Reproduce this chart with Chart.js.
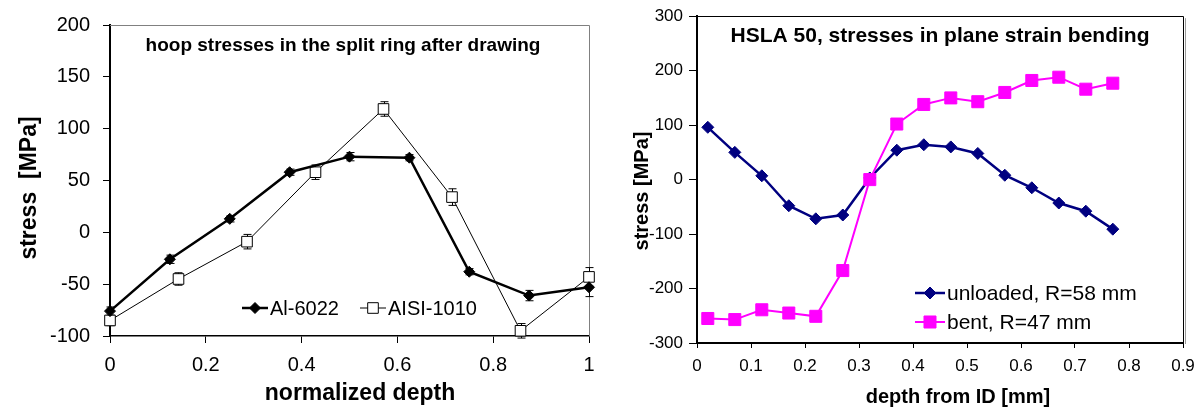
<!DOCTYPE html>
<html><head><meta charset="utf-8">
<script src="https://cdn.jsdelivr.net/npm/chart.js@4.4.1/dist/chart.umd.min.js"></script>
<style>
html,body{margin:0;padding:0;background:#fff;}
#wrap{position:relative;width:1204px;height:412px;overflow:hidden;}
#c1{position:absolute;left:0;top:0;}
#c2{position:absolute;left:600px;top:0;}
</style></head><body>
<div id="wrap"><canvas id="c1" width="600" height="412"></canvas><canvas id="c2" width="604" height="412"></canvas></div>
<script>
// ---- Left chart data ----
const depthAl   = [0, 0.125, 0.25, 0.375, 0.5, 0.625, 0.75, 0.875, 1];
const stressAl  = [-76, -26, 13, 58, 73, 72, -38, -61, -53];
const errAl     = [4, 4, 3, 3, 4, 3, 3, 5, 9];
const depthAisi  = [0, 0.143, 0.286, 0.429, 0.571, 0.714, 0.857, 1];
const stressAisi = [-85, -45, -9, 58, 119, 34, -95, -43];
const errAisi    = [5, 6, 7, 7, 7, 8, 7, 9];
const leftSeriesNames = ['Al-6022', 'AISI-1010'];

// ---- Right chart data ----
const depthID      = [0.02, 0.07, 0.12, 0.17, 0.22, 0.27, 0.32, 0.37, 0.42, 0.47, 0.52, 0.57, 0.62, 0.67, 0.72, 0.77];
const stressUnload = [96, 50, 7, -48, -72, -65, 3, 54, 64, 60, 48, 8, -15, -43, -58, -91];
const stressBent   = [-255, -257, -239, -245, -251, -167, 0, 102, 138, 150, 143, 160, 182, 188, 166, 177];
const rightSeriesNames = ['unloaded, R=58 mm', 'bent, R=47 mm'];

const FONT = "'Liberation Sans', Arial, sans-serif";
Chart.defaults.font.family = FONT;
Chart.defaults.color = '#000';

function pts(xs, ys){ return xs.map((x,i)=>({x:x, y:ys[i]})); }
function fmtNum(v){ return String(Math.round(v*10)/10); }

function drawMarker(ctx, style, x, y, r, fill, stroke){
  ctx.save();
  ctx.beginPath();
  if(style==='rectRot'){
    ctx.moveTo(x-r,y); ctx.lineTo(x,y-r); ctx.lineTo(x+r,y); ctx.lineTo(x,y+r); ctx.closePath();
  } else {
    const h = r*Math.SQRT1_2; ctx.rect(x-h,y-h,2*h,2*h);
  }
  ctx.fillStyle=fill; ctx.fill();
  ctx.lineWidth=1; ctx.strokeStyle=stroke; ctx.stroke();
  ctx.restore();
}

const decor = {
  id:'decor',
  beforeDatasetsDraw(chart, args, o){
    const ctx=chart.ctx, a=chart.chartArea, xs=chart.scales.x, ys=chart.scales.y;
    ctx.save();
    ctx.strokeStyle=o.frameColor; ctx.lineWidth=1;
    ctx.beginPath();
    ctx.moveTo(a.left, Math.round(a.top)+0.5); ctx.lineTo(Math.round(a.right)+0.5, Math.round(a.top)+0.5);
    ctx.lineTo(Math.round(a.right)+0.5, a.bottom);
    ctx.stroke();
    if(o.shadow){
      ctx.strokeStyle='#9a9a9a';
      ctx.beginPath(); ctx.moveTo(Math.round(a.right)+2.5, a.top+2); ctx.lineTo(Math.round(a.right)+2.5, a.bottom+1); ctx.stroke();
    }
    ctx.restore();
    chart.data.datasets.forEach(ds=>{
      if(!ds.errors) return;
      ctx.save(); ctx.strokeStyle='#000'; ctx.lineWidth=1;
      ds.data.forEach((p,i)=>{
        const e=ds.errors[i];
        const px=Math.round(xs.getPixelForValue(p.x))+0.5;
        const y1=ys.getPixelForValue(p.y+e), y2=ys.getPixelForValue(p.y-e);
        ctx.beginPath();
        ctx.moveTo(px,y1); ctx.lineTo(px,y2);
        ctx.moveTo(px-4,y1); ctx.lineTo(px+4,y1);
        ctx.moveTo(px-4,y2); ctx.lineTo(px+4,y2);
        ctx.stroke();
      });
      ctx.restore();
    });
  },
  afterDraw(chart, args, o){
    const ctx=chart.ctx;
    (o.texts||[]).forEach(t=>{
      ctx.save();
      ctx.font=t.font; ctx.fillStyle='#000'; ctx.textAlign='center'; ctx.textBaseline='middle';
      ctx.translate(t.x,t.y); if(t.rot) ctx.rotate(-Math.PI/2);
      ctx.fillText(t.text,0,0);
      ctx.restore();
    });
    const lg=o.legend; if(!lg) return;
    chart.data.datasets.forEach((ds,i)=>{
      const it=lg.items[i];
      ctx.save();
      ctx.strokeStyle=ds.borderColor; ctx.lineWidth=ds.borderWidth;
      ctx.beginPath(); ctx.moveTo(it.x, it.y); ctx.lineTo(it.x+lg.lineLen, it.y); ctx.stroke();
      drawMarker(ctx, ds.pointStyle, it.x+lg.lineLen/2, it.y, ds.pointRadius, ds.pointBackgroundColor, ds.pointBorderColor);
      ctx.font=lg.font; ctx.fillStyle='#000'; ctx.textAlign='left'; ctx.textBaseline='middle';
      ctx.fillText(ds.label, it.x+lg.lineLen+2, it.y+1);
      ctx.restore();
    });
  }
};

// ---------------- Left chart ----------------
new Chart(document.getElementById('c1'), {
  type:'scatter',
  data:{datasets:[
    {label:leftSeriesNames[0], data:pts(depthAl,stressAl), errors:errAl, showLine:true, tension:0,
     borderColor:'#000', borderWidth:2.5, pointStyle:'rectRot', pointRadius:5.5,
     pointBackgroundColor:'#000', pointBorderColor:'#000', pointBorderWidth:1, clip:false},
    {label:leftSeriesNames[1], data:pts(depthAisi,stressAisi), errors:errAisi, showLine:true, tension:0,
     borderColor:'#000', borderWidth:1, pointStyle:'rect', pointRadius:7.5,
     pointBackgroundColor:'#fff', pointBorderColor:'#000', pointBorderWidth:1, clip:false}
  ]},
  options:{
    responsive:false, animation:false, events:[],
    layout:{padding:{top:18, right:11, left:0, bottom:0}},
    plugins:{
      legend:{display:false}, tooltip:{enabled:false},
      decor:{
        frameColor:'#808080', shadow:false,
        texts:[
          {text:'hoop stresses in the split ring after drawing', font:"bold 19px "+FONT, x:343, y:46},
          {text:'normalized depth', font:"bold 23px "+FONT, x:360, y:394},
          {text:'stress  [MPa]', font:"bold 23px "+FONT, x:30, y:188, rot:true}
        ],
        legend:{font:"20px "+FONT, lineLen:26, items:[{x:242,y:308},{x:360,y:308}]}
      }
    },
    scales:{
      x:{type:'linear', min:0, max:1,
         afterFit:s=>{s.height=76; s.paddingRight=0; s.paddingLeft=0;},
         ticks:{stepSize:0.2, font:{size:20}, padding:10, autoSkip:false, maxRotation:0, color:'#000', callback:fmtNum},
         grid:{drawOnChartArea:false, tickLength:7, color:'#000'},
         border:{color:'#000', width:1.5}},
      y:{type:'linear', min:-100, max:200,
         afterFit:s=>{s.width=110;},
         ticks:{stepSize:50, font:{size:20}, padding:13, color:'#000'},
         grid:{drawOnChartArea:false, tickLength:7, color:'#000'},
         border:{color:'#000', width:2}}
    }
  },
  plugins:[decor]
});

// ---------------- Right chart ----------------
new Chart(document.getElementById('c2'), {
  type:'scatter',
  data:{datasets:[
    {label:rightSeriesNames[0], data:pts(depthID,stressUnload), showLine:true, tension:0, order:1,
     borderColor:'#000080', borderWidth:2.5, pointStyle:'rectRot', pointRadius:6,
     pointBackgroundColor:'#000080', pointBorderColor:'#000080', pointBorderWidth:1},
    {label:rightSeriesNames[1], data:pts(depthID,stressBent), showLine:true, tension:0, order:0,
     borderColor:'#FF00FF', borderWidth:2, pointStyle:'rect', pointRadius:8.5,
     pointBackgroundColor:'#FF00FF', pointBorderColor:'#FF00FF', pointBorderWidth:1}
  ]},
  options:{
    responsive:false, animation:false, events:[],
    layout:{padding:{top:16, right:21, left:0, bottom:0}},
    plugins:{
      legend:{display:false}, tooltip:{enabled:false},
      decor:{
        frameColor:'#000', shadow:true,
        texts:[
          {text:'HSLA 50, stresses in plane strain bending', font:"bold 21px "+FONT, x:340, y:36},
          {text:'depth from ID [mm]', font:"bold 20px "+FONT, x:358, y:397},
          {text:'stress [MPa]', font:"bold 20px "+FONT, x:42, y:191, rot:true}
        ],
        legend:{font:"21px "+FONT, lineLen:30, items:[{x:315,y:293},{x:315,y:322}]}
      }
    },
    scales:{
      x:{type:'linear', min:0, max:0.9,
         afterFit:s=>{s.height=69; s.paddingRight=0; s.paddingLeft=0;},
         ticks:{stepSize:0.1, font:{size:17}, padding:8, autoSkip:false, maxRotation:0, color:'#000', callback:fmtNum},
         grid:{drawOnChartArea:false, tickLength:5, color:'#000'},
         border:{color:'#000', width:2}},
      y:{type:'linear', min:-300, max:300,
         afterFit:s=>{s.width=97;},
         ticks:{stepSize:100, font:{size:17}, padding:6, color:'#000'},
         grid:{drawOnChartArea:false, tickLength:8, color:'#000'},
         border:{color:'#000', width:2}}
    }
  },
  plugins:[decor]
});
</script>
</body></html>
